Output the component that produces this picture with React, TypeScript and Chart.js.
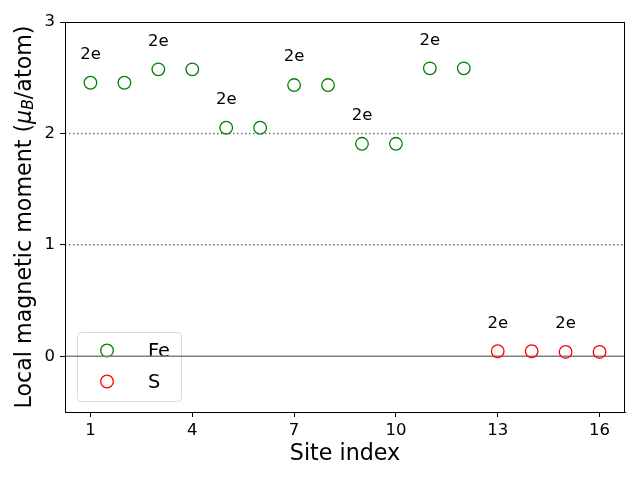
import React, { useEffect, useRef } from "react";
import { Chart, registerables } from "chart.js";

Chart.register(...registerables);

const feSites = [1, 2, 3, 4, 5, 6, 7, 8, 9, 10, 11, 12];
const feMoments = [2.455, 2.455, 2.575, 2.575, 2.051, 2.051, 2.434, 2.434, 1.907, 1.907, 2.584, 2.584];
const sSites = [13, 14, 15, 16];
const sMoments = [0.045, 0.045, 0.039, 0.039];
const labelSites = [1, 3, 5, 7, 9, 11, 13, 15];
const labelText = "2e";
const xTicks = [1, 4, 7, 10, 13, 16];
const yTicks = [0, 1, 2, 3];
const dottedLevels = [1, 2];
const legendNames = ["Fe", "S"];
const colors = ["#008000", "#ff0000"];

const FONT = "'DejaVu Sans', sans-serif";

const customPlugin = {
  id: "custom",
  beforeDatasetsDraw(chart: any) {
    const { ctx, chartArea, scales } = chart;
    const { left, right, top, bottom } = chartArea;
    ctx.save();
    // legend box
    const lx = left + 12, ly = bottom - 80, lw = 104, lh = 69;
    ctx.beginPath();
    (ctx as any).roundRect(lx + 0.5, ly + 0.5, lw, lh, 4);
    ctx.fillStyle = "rgba(255,255,255,0.8)";
    ctx.fill();
    ctx.strokeStyle = "#d9d9d9";
    ctx.lineWidth = 1;
    ctx.stroke();
    legendNames.forEach((name, i) => {
      const cy = ly + 18.5 + i * 31;
      ctx.beginPath();
      ctx.arc(lx + 30, cy, 6.3, 0, Math.PI * 2);
      ctx.strokeStyle = colors[i];
      ctx.lineWidth = 1.3;
      ctx.stroke();
      ctx.fillStyle = "#000";
      ctx.font = `19.4px ${FONT}`;
      ctx.textAlign = "left";
      ctx.textBaseline = "middle";
      ctx.fillText(name, lx + 71, cy + 1);
    });
    // horizontal lines
    ctx.beginPath();
    ctx.rect(left, top, right - left, bottom - top);
    ctx.clip();
    const y0 = scales.y.getPixelForValue(0);
    ctx.strokeStyle = "#808080";
    ctx.lineWidth = 1.5;
    ctx.setLineDash([]);
    ctx.beginPath();
    ctx.moveTo(left, y0);
    ctx.lineTo(right, y0);
    ctx.stroke();
    ctx.setLineDash([1.5, 2.5]);
    ctx.strokeStyle = "#707070";
    dottedLevels.forEach((v) => {
      const yy = scales.y.getPixelForValue(v);
      ctx.beginPath();
      ctx.moveTo(left, yy);
      ctx.lineTo(right, yy);
      ctx.stroke();
    });
    ctx.restore();
  },
  afterDraw(chart: any) {
    const { ctx, chartArea, scales } = chart;
    const { left, right, top, bottom } = chartArea;
    ctx.save();
    // annotations
    ctx.fillStyle = "#000";
    ctx.font = `16.5px ${FONT}`;
    ctx.textAlign = "center";
    ctx.textBaseline = "middle";
    labelSites.forEach((s) => {
      const fi = feSites.indexOf(s);
      const si = sSites.indexOf(s);
      const v = fi >= 0 ? feMoments[fi] : sMoments[si];
      ctx.fillText(labelText, scales.x.getPixelForValue(s), scales.y.getPixelForValue(v + 0.25));
    });
    // frame
    ctx.strokeStyle = "#000";
    ctx.lineWidth = 1;
    ctx.strokeRect(left + 0.5, top + 0.5, right - left - 1, bottom - top);
    // x title
    ctx.font = `22.2px ${FONT}`;
    ctx.textAlign = "center";
    ctx.textBaseline = "middle";
    ctx.fillText("Site index", (left + right) / 2, 454);
    // y title with rich text
    const parts = [
      { t: "Local magnetic moment (", f: `22.2px ${FONT}`, dy: 0 },
      { t: "μ", f: `italic 22.2px ${FONT}`, dy: 0 },
      { t: "B", f: `italic 15.5px ${FONT}`, dy: 4 },
      { t: "/atom)", f: `22.2px ${FONT}`, dy: 0 },
    ];
    let total = 0;
    parts.forEach((p) => {
      ctx.font = p.f;
      total += ctx.measureText(p.t).width;
    });
    ctx.translate(25, (top + bottom) / 2);
    ctx.rotate(-Math.PI / 2);
    let x = -total / 2;
    ctx.textAlign = "left";
    parts.forEach((p) => {
      ctx.font = p.f;
      ctx.fillText(p.t, x, p.dy);
      x += ctx.measureText(p.t).width;
    });
    ctx.restore();
  },
};

export default function App() {
  const ref = useRef<HTMLCanvasElement>(null);
  useEffect(() => {
    const chart = new Chart(ref.current!, {
      type: "scatter",
      data: {
        datasets: [
          {
            label: legendNames[0],
            data: feSites.map((s, i) => ({ x: s, y: feMoments[i] })),
            borderColor: colors[0],
            backgroundColor: "rgba(0,0,0,0)",
            pointRadius: 6.3,
            pointBorderWidth: 1.3,
          },
          {
            label: legendNames[1],
            data: sSites.map((s, i) => ({ x: s, y: sMoments[i] })),
            borderColor: colors[1],
            backgroundColor: "rgba(0,0,0,0)",
            pointRadius: 6.3,
            pointBorderWidth: 1.3,
          },
        ],
      },
      options: {
        animation: false,
        responsive: false,
        maintainAspectRatio: false,
        layout: { padding: { left: 0, top: 22, right: 15, bottom: 0 } },
        plugins: { legend: { display: false }, tooltip: { enabled: false } },
        scales: {
          x: {
            type: "linear",
            min: 0.25,
            max: 16.75,
            afterBuildTicks: (s: any) => {
              s.ticks = xTicks.map((v) => ({ value: v }));
            },
            afterFit: (s: any) => {
              s.height = 68;
            },
            grid: { drawOnChartArea: false, drawTicks: true, tickLength: 5, color: "#000" },
            border: { display: true, color: "#000" },
            ticks: { color: "#000", font: { family: FONT, size: 16.5, lineHeight: 1 }, padding: 5, maxRotation: 0 },
          },
          y: {
            type: "linear",
            min: -0.5,
            max: 3,
            afterBuildTicks: (s: any) => {
              s.ticks = yTicks.map((v) => ({ value: v }));
            },
            afterFit: (s: any) => {
              s.width = 65;
            },
            grid: { drawOnChartArea: false, drawTicks: true, tickLength: 5, color: "#000" },
            border: { display: true, color: "#000" },
            ticks: { color: "#000", font: { family: FONT, size: 16.5 }, padding: 5 },
          },
        },
      },
      plugins: [customPlugin],
    } as any);
    return () => chart.destroy();
  }, []);
  return (
    <div style={{ position: "fixed", left: 0, top: 0, width: 640, height: 480, background: "#fff" }}>
      <canvas ref={ref} width={640} height={480} style={{ width: 640, height: 480 }} />
    </div>
  );
}
